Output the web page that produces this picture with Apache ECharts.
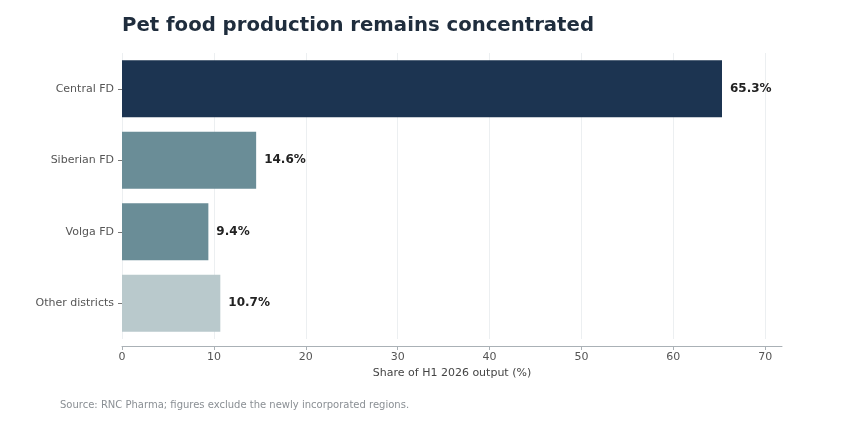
<!DOCTYPE html>
<html>
<head>
<meta charset="utf-8">
<script src="https://cdn.jsdelivr.net/npm/echarts@6/dist/echarts.min.js"></script>
<style>
  html, body { margin: 0; padding: 0; background: #fff; }
  #chart { width: 859px; height: 422px; }
</style>
</head>
<body>
<div id="chart"></div>
<script>
// data
var districts = ['Central FD', 'Siberian FD', 'Volga FD', 'Other districts'];
var shares = [65.3, 14.6, 9.4, 10.7];
var barColors = ['#1c3451', '#6a8d97', '#6a8d97', '#b9c9cc'];
var xTicks = [0, 10, 20, 30, 40, 50, 60, 70];

var myChart = echarts.init(document.getElementById('chart'));

var options = {
  backgroundColor: '#fff',
  textStyle: { fontFamily: 'DejaVu Sans' },
  title: {
    text: 'Pet food production remains concentrated',
    left: 117,
    top: 11,
    textStyle: { fontSize: 19.7, fontWeight: 'bold', color: '#1f2d3d', fontFamily: 'DejaVu Sans' }
  },
  graphic: [{
    type: 'text',
    left: 60,
    top: 400,
    style: {
      text: 'Source: RNC Pharma; figures exclude the newly incorporated regions.',
      fill: '#8a8f94',
      fontSize: 10,
      fontFamily: 'DejaVu Sans'
    }
  }],
  grid: { left: 122, right: 77, top: 53, bottom: 83 },
  xAxis: {
    type: 'value',
    min: 0,
    max: 71.83,
    offset: 7,
    name: 'Share of H1 2026 output (%)',
    nameLocation: 'middle',
    nameGap: 20,
    nameTextStyle: { fontSize: 11, color: '#444' },
    axisLine: { show: true, lineStyle: { color: '#aab1b6', width: 1 } },
    axisTick: { show: true, length: 4, lineStyle: { color: '#aab1b6' }, customValues: xTicks },
    axisLabel: { fontSize: 11, color: '#555', margin: 6, customValues: xTicks },
    splitLine: { show: true, lineStyle: { color: '#eceff1', width: 1 } }
  },
  yAxis: {
    type: 'category',
    inverse: true,
    data: districts,
    axisLine: { show: false },
    axisTick: { show: true, length: 4, alignWithLabel: true, lineStyle: { color: '#777' } },
    axisLabel: { fontSize: 11, color: '#555', margin: 8 }
  },
  series: [{
    type: 'bar',
    data: shares.map(function (v, i) {
      return { value: v, itemStyle: { color: barColors[i] } };
    }),
    barCategoryGap: '20%',
    label: {
      show: true,
      position: 'right',
      distance: 8,
      formatter: function (p) { return p.value.toFixed(1) + '%'; },
      fontSize: 12,
      fontWeight: 'bold',
      color: '#222'
    }
  }]
};

myChart.setOption(options, true);
</script>
</body>
</html>
